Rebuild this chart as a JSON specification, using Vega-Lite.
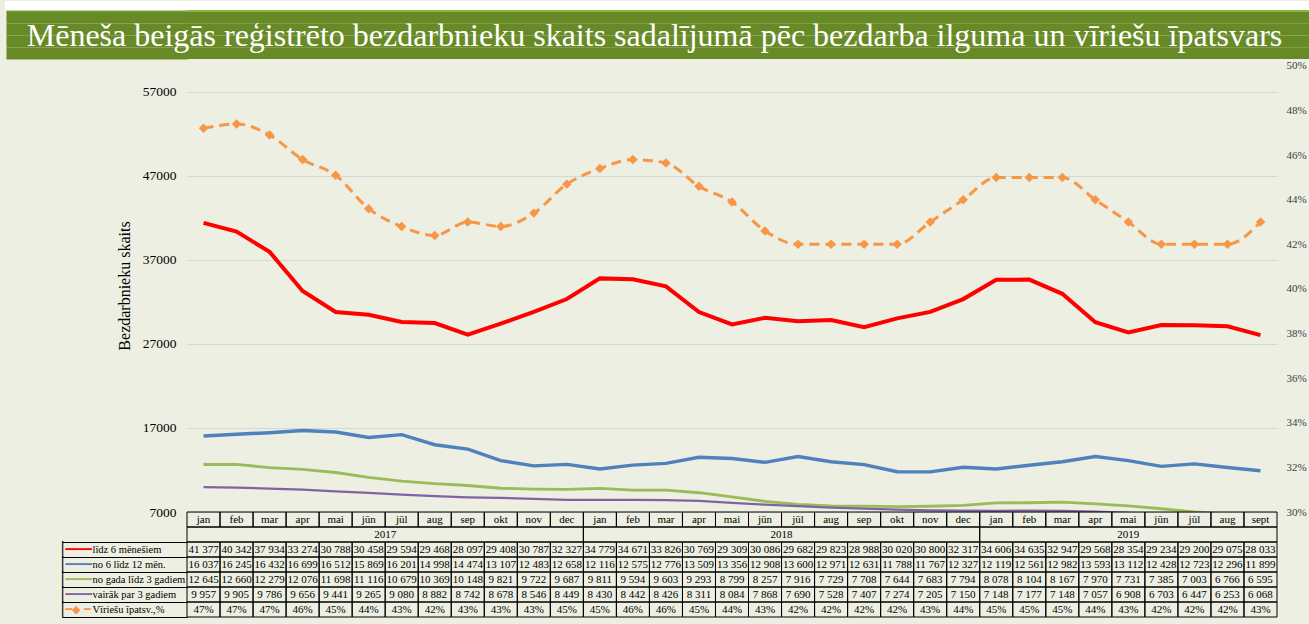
{
  "$schema": "https://vega.github.io/schema/vega-lite/v6.json",
  "background": "#ECEFE1",
  "padding": {"left": 0, "top": 0, "right": 0, "bottom": 8},
  "bounds": "flush",
  "spacing": 0,
  "config": {
    "locale": {"number": {"decimal": ",", "thousands": " ", "grouping": [3], "currency": ["", ""]}},
    "font": "Liberation Serif",
    "view": {"stroke": null}
  },
  "title": {
    "text": "Mēneša beigās reģistrēto bezdarbnieku skaits sadalījumā pēc bezdarba ilguma un vīriešu īpatsvars",
    "color": "white", "font": "Liberation Serif", "fontSize": 32, "fontWeight": "normal",
    "anchor": "middle", "frame": "bounds", "offset": -77, "baseline": "alphabetic"
  },
  "datasets": {
    "main": [
      {"m": "2017-01", "mon": "jan", "s1": 41377, "s2": 16037, "s3": 12645, "s4": 9957, "pct": 0.472},
      {"m": "2017-02", "mon": "feb", "s1": 40342, "s2": 16245, "s3": 12660, "s4": 9905, "pct": 0.474},
      {"m": "2017-03", "mon": "mar", "s1": 37934, "s2": 16432, "s3": 12279, "s4": 9786, "pct": 0.469},
      {"m": "2017-04", "mon": "apr", "s1": 33274, "s2": 16699, "s3": 12076, "s4": 9656, "pct": 0.458},
      {"m": "2017-05", "mon": "mai", "s1": 30788, "s2": 16512, "s3": 11698, "s4": 9441, "pct": 0.451},
      {"m": "2017-06", "mon": "jūn", "s1": 30458, "s2": 15869, "s3": 11116, "s4": 9265, "pct": 0.436},
      {"m": "2017-07", "mon": "jūl", "s1": 29594, "s2": 16201, "s3": 10679, "s4": 9080, "pct": 0.428},
      {"m": "2017-08", "mon": "aug", "s1": 29468, "s2": 14998, "s3": 10369, "s4": 8882, "pct": 0.424},
      {"m": "2017-09", "mon": "sep", "s1": 28097, "s2": 14474, "s3": 10148, "s4": 8742, "pct": 0.430},
      {"m": "2017-10", "mon": "okt", "s1": 29408, "s2": 13107, "s3": 9821, "s4": 8678, "pct": 0.428},
      {"m": "2017-11", "mon": "nov", "s1": 30787, "s2": 12483, "s3": 9722, "s4": 8546, "pct": 0.434},
      {"m": "2017-12", "mon": "dec", "s1": 32327, "s2": 12658, "s3": 9687, "s4": 8449, "pct": 0.447},
      {"m": "2018-01", "mon": "jan", "s1": 34779, "s2": 12116, "s3": 9811, "s4": 8430, "pct": 0.454},
      {"m": "2018-02", "mon": "feb", "s1": 34671, "s2": 12575, "s3": 9594, "s4": 8442, "pct": 0.458},
      {"m": "2018-03", "mon": "mar", "s1": 33826, "s2": 12776, "s3": 9603, "s4": 8426, "pct": 0.4565},
      {"m": "2018-04", "mon": "apr", "s1": 30769, "s2": 13509, "s3": 9293, "s4": 8311, "pct": 0.446},
      {"m": "2018-05", "mon": "mai", "s1": 29309, "s2": 13356, "s3": 8799, "s4": 8084, "pct": 0.439},
      {"m": "2018-06", "mon": "jūn", "s1": 30086, "s2": 12908, "s3": 8257, "s4": 7868, "pct": 0.426},
      {"m": "2018-07", "mon": "jūl", "s1": 29682, "s2": 13600, "s3": 7916, "s4": 7690, "pct": 0.420},
      {"m": "2018-08", "mon": "aug", "s1": 29823, "s2": 12971, "s3": 7729, "s4": 7528, "pct": 0.420},
      {"m": "2018-09", "mon": "sep", "s1": 28988, "s2": 12631, "s3": 7708, "s4": 7407, "pct": 0.420},
      {"m": "2018-10", "mon": "okt", "s1": 30020, "s2": 11788, "s3": 7644, "s4": 7274, "pct": 0.420},
      {"m": "2018-11", "mon": "nov", "s1": 30800, "s2": 11767, "s3": 7683, "s4": 7205, "pct": 0.430},
      {"m": "2018-12", "mon": "dec", "s1": 32317, "s2": 12327, "s3": 7794, "s4": 7150, "pct": 0.440},
      {"m": "2019-01", "mon": "jan", "s1": 34606, "s2": 12119, "s3": 8078, "s4": 7148, "pct": 0.450},
      {"m": "2019-02", "mon": "feb", "s1": 34635, "s2": 12561, "s3": 8104, "s4": 7177, "pct": 0.450},
      {"m": "2019-03", "mon": "mar", "s1": 32947, "s2": 12982, "s3": 8167, "s4": 7148, "pct": 0.450},
      {"m": "2019-04", "mon": "apr", "s1": 29568, "s2": 13593, "s3": 7970, "s4": 7057, "pct": 0.440},
      {"m": "2019-05", "mon": "mai", "s1": 28354, "s2": 13112, "s3": 7731, "s4": 6908, "pct": 0.430},
      {"m": "2019-06", "mon": "jūn", "s1": 29234, "s2": 12428, "s3": 7385, "s4": 6703, "pct": 0.420},
      {"m": "2019-07", "mon": "jūl", "s1": 29200, "s2": 12723, "s3": 7003, "s4": 6447, "pct": 0.420},
      {"m": "2019-08", "mon": "aug", "s1": 29075, "s2": 12296, "s3": 6766, "s4": 6253, "pct": 0.420},
      {"m": "2019-09", "mon": "sept", "s1": 28033, "s2": 11899, "s3": 6595, "s4": 6068, "pct": 0.430}
    ],
    "rows": [
      {"key": "s1", "row": "līdz 6 mēnešiem"},
      {"key": "s2", "row": "no 6 līdz 12 mēn."},
      {"key": "s3", "row": "no gada līdz 3 gadiem"},
      {"key": "s4", "row": "vairāk par 3 gadiem"},
      {"key": "pct", "row": "Vīriešu īpatsv.,%"}
    ],
    "years": [
      {"year": "2017", "start": "2017-01", "end": "2017-12", "mid": "2017-06"},
      {"year": "2018", "start": "2018-01", "end": "2018-12", "mid": "2018-06"},
      {"year": "2019", "start": "2019-01", "end": "2019-09", "mid": "2019-05"}
    ],
    "one": [{"t": "Attēls 1.5"}]
  },
  "vconcat": [
    {
      "width": 1122, "height": 9,
      "data": {"name": "one"},
      "mark": {"type": "rect", "color": "#FFFFFF"},
      "encoding": {"y": {"datum": "a", "type": "nominal", "scale": {"paddingInner": 0, "paddingOuter": 0},
        "axis": {"orient": "left", "title": null, "labels": false, "domain": false, "grid": false, "ticks": true, "tickSize": 182.5, "tickWidth": 9, "tickColor": "#FFFFFF"}}}
    },
    {
      "width": 1122, "height": 2,
      "data": {"name": "one"},
      "mark": {"type": "rect", "color": "#8DB63C"},
      "encoding": {"y": {"datum": "a", "type": "nominal", "scale": {"paddingInner": 0, "paddingOuter": 0},
        "axis": {"orient": "left", "title": null, "labels": false, "domain": false, "grid": false, "ticks": true, "tickSize": 181, "tickWidth": 2, "tickColor": "#8DB63C"}}}
    },
    {
      "width": 1122, "height": 47,
      "data": {"name": "one"},
      "layer": [
        {"mark": {"type": "rect", "color": "#688A26"},
         "encoding": {"y": {"datum": "a", "type": "nominal", "scale": {"paddingInner": 0, "paddingOuter": 0},
           "axis": {"orient": "left", "title": null, "labels": false, "domain": false, "grid": false, "ticks": true, "tickSize": 181, "tickWidth": 12, "tickColor": "#688A26"}}}},
        {"mark": {"type": "rect", "color": "#688A26"}, "encoding": {"y": {"datum": "b", "type": "nominal"}}},
        {"mark": {"type": "rect", "color": "#688A26"}, "encoding": {"y": {"datum": "c", "type": "nominal"}}},
        {"mark": {"type": "rect", "color": "#688A26"}, "encoding": {"y": {"datum": "d", "type": "nominal"}}}
      ]
    },
    {
      "width": 1090, "height": 453,
      "data": {"name": "main"},
      "encoding": {"x": {"field": "m", "type": "nominal", "scale": {"type": "point", "padding": 0.5}, "axis": null}},
      "layer": [
        {
          "transform": [{"fold": ["s1", "s2", "s3", "s4"], "as": ["key", "value"]}],
          "mark": {"type": "line", "clip": true},
          "encoding": {
            "y": {"field": "value", "type": "quantitative", "scale": {"domain": [7000, 60865], "nice": false, "zero": false},
              "axis": {"orient": "left", "values": [7000, 17000, 27000, 37000, 47000, 57000], "format": "d", "grid": true, "gridColor": "#D3D7D9", "domain": false, "ticks": false,
                "labelPadding": 11, "labelFontSize": 13.5, "labelColor": "#000000", "labelFont": "Liberation Serif",
                "title": "Bezdarbnieku skaits", "titleFont": "Liberation Serif", "titleFontSize": 16, "titleFontWeight": "normal", "titleColor": "#000000", "titlePadding": 10}},
            "color": {"field": "key", "type": "nominal", "scale": {"domain": ["s1", "s2", "s3", "s4"], "range": ["#FF0000", "#4F81BD", "#9BBB59", "#8064A2"]}, "legend": null},
            "size": {"field": "key", "type": "ordinal", "scale": {"domain": ["s1", "s2", "s3", "s4"], "range": [4, 2.25, 2.25, 2.25]}, "legend": null}
          }
        },
        {"mark": {"type": "line", "color": "#F79646", "strokeWidth": 3, "strokeDash": [10, 6], "interpolate": "monotone", "clip": true,
                  "point": {"shape": "diamond", "size": 90, "filled": true, "color": "#F79646"}},
         "encoding": {"y": {"field": "pct", "type": "quantitative", "scale": {"domain": [0.3, 0.5031], "nice": false, "zero": false},
           "axis": {"orient": "right", "values": [0.3, 0.32, 0.34, 0.36, 0.38, 0.4, 0.42, 0.44, 0.46, 0.48, 0.5], "format": ".0%", "grid": false, "domain": false, "ticks": false,
             "labelPadding": 9, "labelFontSize": 11, "labelColor": "#404040", "labelFont": "Liberation Serif", "title": null}}}}
      ],
      "resolve": {"scale": {"y": "independent"}}
    },
    {
      "width": 1090, "height": 105,
      "layer": [
        {
          "data": {"name": "main"},
          "transform": [
            {"fold": ["s1", "s2", "s3", "s4", "pct"], "as": ["key", "value"]},
            {"lookup": "key", "from": {"data": {"name": "rows"}, "key": "key", "fields": ["row"]}}
          ],
          "mark": {"type": "rect", "filled": false, "color": "#000000", "strokeWidth": 1},
          "encoding": {
            "x": {"field": "m", "type": "nominal", "scale": {"type": "band", "paddingInner": 0, "paddingOuter": 0}, "axis": null},
            "y": {"field": "row", "type": "nominal",
              "scale": {"domain": ["_m", "_y", "līdz 6 mēnešiem", "no 6 līdz 12 mēn.", "no gada līdz 3 gadiem", "vairāk par 3 gadiem", "Vīriešu īpatsv.,%"], "paddingInner": 0, "paddingOuter": 0},
              "axis": {"orient": "left", "values": ["līdz 6 mēnešiem", "no 6 līdz 12 mēn.", "no gada līdz 3 gadiem", "vairāk par 3 gadiem", "Vīriešu īpatsv.,%"],
                "tickBand": "extent", "ticks": true, "tickSize": 125, "tickColor": "#000000", "tickWidth": 1, "labels": false, "domain": false, "grid": false, "title": null}}
          }
        },
        {
          "data": {"name": "main"},
          "transform": [
            {"fold": ["s1", "s2", "s3", "s4", "pct"], "as": ["key", "value"]},
            {"lookup": "key", "from": {"data": {"name": "rows"}, "key": "key", "fields": ["row"]}},
            {"filter": "datum.key !== 'pct'"}
          ],
          "mark": {"type": "text", "font": "Liberation Serif", "fontSize": 11, "color": "#000000"},
          "encoding": {
            "x": {"field": "m", "type": "nominal", "axis": null},
            "y": {"field": "row", "type": "nominal",
              "axis": {"orient": "left", "values": ["līdz 6 mēnešiem", "no 6 līdz 12 mēn.", "no gada līdz 3 gadiem", "vairāk par 3 gadiem", "Vīriešu īpatsv.,%"],
                "ticks": false, "domain": false, "grid": false, "title": null, "labelAlign": "left", "labelPadding": 95,
                "labelFont": "Liberation Serif", "labelFontSize": 10.5, "labelColor": "#000000"}},
            "text": {"field": "value", "type": "quantitative", "format": ",d"}
          }
        },
        {
          "data": {"name": "main"},
          "transform": [
            {"fold": ["s1", "s2", "s3", "s4", "pct"], "as": ["key", "value"]},
            {"lookup": "key", "from": {"data": {"name": "rows"}, "key": "key", "fields": ["row"]}},
            {"filter": "datum.key === 'pct'"}
          ],
          "mark": {"type": "text", "font": "Liberation Serif", "fontSize": 11, "color": "#000000"},
          "encoding": {
            "x": {"field": "m", "type": "nominal", "axis": null},
            "y": {"field": "row", "type": "nominal",
              "axis": {"orient": "left", "values": ["līdz 6 mēnešiem", "no 6 līdz 12 mēn.", "no gada līdz 3 gadiem", "vairāk par 3 gadiem", "Vīriešu īpatsv.,%"],
                "ticks": false, "domain": false, "grid": false, "title": null, "labelAlign": "left", "labelPadding": 122,
                "labelFont": "DejaVu Sans", "labelFontSize": 11,
                "labelExpr": "datum.value === 'Vīriešu īpatsv.,%' ? '━◆ ━' : '━━━━'",
                "labelFontWeight": {"condition": {"test": "datum.value === 'līdz 6 mēnešiem'", "value": "bold"}, "value": "normal"},
                "labelColor": {"condition": [
                  {"test": "datum.value === 'līdz 6 mēnešiem'", "value": "#FF0000"},
                  {"test": "datum.value === 'no 6 līdz 12 mēn.'", "value": "#4F81BD"},
                  {"test": "datum.value === 'no gada līdz 3 gadiem'", "value": "#9BBB59"},
                  {"test": "datum.value === 'vairāk par 3 gadiem'", "value": "#8064A2"}
                ], "value": "#F79646"}}},
            "text": {"field": "value", "type": "quantitative", "format": ".0%"}
          }
        },
        {
          "data": {"name": "main"},
          "mark": {"type": "rect", "filled": false, "color": "#000000", "strokeWidth": 1},
          "encoding": {
            "x": {"field": "m", "type": "nominal", "axis": null},
            "y": {"datum": "_m", "type": "nominal", "axis": null}
          }
        },
        {
          "data": {"name": "main"},
          "mark": {"type": "text", "font": "Liberation Serif", "fontSize": 11, "color": "#000000"},
          "encoding": {
            "x": {"field": "m", "type": "nominal", "axis": null},
            "y": {"datum": "_m", "type": "nominal",
              "axis": {"orient": "left", "values": ["līdz 6 mēnešiem", "no 6 līdz 12 mēn.", "no gada līdz 3 gadiem", "vairāk par 3 gadiem", "Vīriešu īpatsv.,%"],
                "ticks": false, "domain": false, "grid": false, "title": null, "labelAlign": "center", "labelBaseline": "middle", "labelPadding": 125,
                "labelFont": "DejaVu Sans", "labelFontSize": 14, "labelColor": "#000000", "labelExpr": "'│'"}},
            "text": {"field": "mon"}
          }
        },
        {
          "data": {"name": "years"},
          "mark": {"type": "rect", "filled": false, "color": "#000000", "strokeWidth": 1},
          "encoding": {
            "x": {"field": "start", "type": "nominal", "bandPosition": 0, "axis": null},
            "x2": {"field": "end", "bandPosition": 1},
            "y": {"datum": "_y", "type": "nominal", "axis": null}
          }
        },
        {
          "data": {"name": "years"},
          "transform": [{"filter": "datum.year !== '2019'"}],
          "mark": {"type": "text", "font": "Liberation Serif", "fontSize": 11, "color": "#000000"},
          "encoding": {
            "x": {"field": "mid", "type": "nominal", "bandPosition": 1, "axis": null},
            "y": {"datum": "_y", "type": "nominal", "axis": null},
            "text": {"field": "year"}
          }
        },
        {
          "data": {"name": "years"},
          "transform": [{"filter": "datum.year === '2019'"}],
          "mark": {"type": "text", "font": "Liberation Serif", "fontSize": 11, "color": "#000000"},
          "encoding": {
            "x": {"field": "mid", "type": "nominal", "bandPosition": 0.5, "axis": null},
            "y": {"datum": "_y", "type": "nominal", "axis": null},
            "text": {"field": "year"}
          }
        }
      ],
      "resolve": {"axis": {"y": "independent"}}
    }
  ]
}
